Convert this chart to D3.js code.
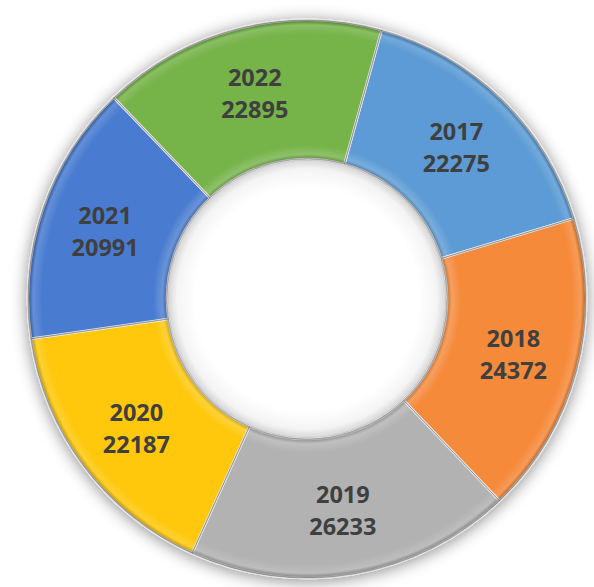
<!DOCTYPE html>
<html><head><meta charset="utf-8">
<script src="https://cdn.jsdelivr.net/npm/d3@7"></script>
<style>html,body{margin:0;padding:0;background:#fff;}svg{display:block;}</style>
</head><body>
<script>
const years = ["2017","2018","2019","2020","2021","2022"];
const values = [22275, 24372, 26233, 22187, 20991, 22895];
const colors = ["#5B9BD5","#F58A3A","#B2B2B2","#FFC80A","#4A7BD0","#76B34A"];

const W = 594, H = 587, cx = 307, cy = 299, rOut = 279, rIn = 140;
const startDeg = 15.5;

const svg = d3.select("body").append("svg").attr("width", W).attr("height", H);
const defs = svg.append("defs");

const sh = defs.append("filter").attr("id","shadow").attr("x","-20%").attr("y","-20%").attr("width","140%").attr("height","140%");
sh.append("feDropShadow").attr("dx",0).attr("dy",2).attr("stdDeviation",8).attr("flood-color","#000").attr("flood-opacity",0.45);

const bev = defs.append("radialGradient").attr("id","bevel").attr("gradientUnits","userSpaceOnUse")
  .attr("cx",0).attr("cy",0).attr("r",rOut);
const stops = [
  [rIn/rOut, "#000", 0.25],
  [(rIn+5)/rOut, "#fff", 0.18],
  [(rIn+14)/rOut, "#fff", 0.0],
  [(rOut-14)/rOut, "#fff", 0.0],
  [(rOut-5)/rOut, "#fff", 0.15],
  [(rOut-2)/rOut, "#000", 0.15],
  [1, "#000", 0.35]
];
stops.forEach(s => bev.append("stop").attr("offset",s[0]).attr("stop-color",s[1]).attr("stop-opacity",s[2]));

const holeG = defs.append("radialGradient").attr("id","hole").attr("gradientUnits","userSpaceOnUse")
  .attr("cx",0).attr("cy",0).attr("r",rIn);
[[0.80,"#fff",1],[0.93,"#f4f4f4",1],[0.985,"#d9d9d9",1],[1,"#9a9a9a",1]]
  .forEach(s => holeG.append("stop").attr("offset",s[0]).attr("stop-color",s[1]).attr("stop-opacity",s[2]));

const pie = d3.pie().sort(null).value(d => d)
  .startAngle(startDeg*Math.PI/180).endAngle(startDeg*Math.PI/180 + 2*Math.PI);
const arcs = pie(values);
const arc = d3.arc().innerRadius(rIn).outerRadius(rOut);
const labelArc = d3.arc().innerRadius(rIn + 4).outerRadius(rOut + 4);

const g = svg.append("g").attr("transform", `translate(${cx},${cy})`);

const ring = g.append("g").attr("filter","url(#shadow)");
ring.selectAll("path.seg").data(arcs).join("path").attr("class","seg")
  .attr("d", arc).attr("fill", (d,i) => colors[i])
  .attr("stroke","#e8e8e8").attr("stroke-width",2.5).attr("stroke-linejoin","round");

g.selectAll("path.bev").data(arcs).join("path").attr("class","bev")
  .attr("d", arc).attr("fill","url(#bevel)");

g.selectAll("path.edge").data(arcs).join("path").attr("class","edge")
  .attr("d", arc).attr("fill","none").attr("stroke","rgba(90,90,90,0.45)").attr("stroke-width",0.8);

g.append("circle").attr("r", rIn-1).attr("fill","url(#hole)");

const labels = g.selectAll("text.lbl").data(arcs).join("text").attr("class","lbl")
  .attr("transform", d => { const c = labelArc.centroid(d); return `translate(${c[0]},${c[1]})`; })
  .attr("text-anchor","middle")
  .style("font-family","'Open Sans', sans-serif").style("font-weight","bold")
  .style("font-size","23.5px").attr("fill","#3f3f3f");
labels.append("tspan").attr("x",0).attr("y",-6).text((d,i) => years[i]);
labels.append("tspan").attr("x",0).attr("y",26).text((d,i) => values[i]);
</script>
</body></html>
